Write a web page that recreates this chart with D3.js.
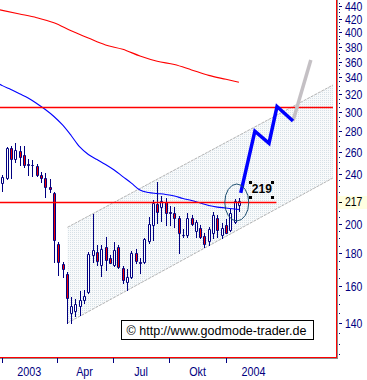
<!DOCTYPE html>
<html><head><meta charset="utf-8">
<script src="https://cdn.jsdelivr.net/npm/d3@7"></script>
<style>html,body{margin:0;padding:0;background:#fff;} svg{display:block;}</style>
</head><body>
<svg id="c" width="367" height="380"></svg>
<script>
// ---------- data ----------
const weekStart = "2003-01-02";
const open  = [232.4,236.1,263.1,252.8,260.8,256.8,248.9,247.5,246.8,238.9,236.1,229.1,223.6,186.2,173.3,167.1,145.1,146.2,148.9,152.0,156.7,179.0,181.1,172.6,184.0,176.9,172.6,184.4,170.6,162.5,165.2,180.5,174.2,174.7,188.3,199.5,215.2,213.1,217.0,208.8,208.3,204.5,192.6,192.4,204.5,195.0,197.6,191.7,188.4,193.8,204.5,192.4,199.5,195.9,201.8,214.8];
const high  = [238.9,264.1,265.3,268.4,265.3,265.3,252.8,252.2,248.6,241.5,240.3,235.3,225.0,187.8,174.7,168.5,153.9,152.6,157.3,157.7,180.9,207.4,185.6,185.6,191.2,179.0,187.8,185.6,172.1,170.4,181.5,182.7,177.2,190.1,205.6,218.3,232.7,221.5,219.8,213.6,213.1,205.7,196.9,208.3,206.8,203.1,199.5,193.8,198.2,209.2,206.8,200.7,203.6,211.1,218.8,219.8];
const low   = [225.2,235.3,236.1,250.0,247.7,246.2,238.9,238.0,237.8,232.9,221.0,224.4,174.7,166.5,165.1,140.2,140.2,143.5,144.1,150.5,155.8,174.7,172.6,165.9,169.5,173.7,171.7,170.8,161.8,157.7,164.6,174.0,167.7,173.7,187.2,188.9,201.1,202.3,199.5,199.5,198.2,180.0,191.2,191.2,199.5,191.2,190.1,184.4,185.6,190.1,191.2,190.1,193.8,195.4,201.1,209.8];
const close = [237.5,263.1,252.8,261.5,254.6,247.4,247.8,247.3,238.9,236.7,229.1,227.2,188.9,174.7,169.9,153.0,148.9,150.0,152.2,154.6,179.6,182.2,175.4,182.7,175.8,174.1,182.2,171.2,163.5,165.2,180.5,175.2,173.9,189.4,200.2,216.0,209.4,217.5,208.3,208.5,204.5,193.8,192.2,204.5,200.2,201.7,191.2,186.2,196.4,206.8,196.1,197.1,193.8,208.3,217.8,217.5];

const blueMaWeek = [-1,0,2,4,6,8,10,12,14,16,18,20,22,24,26,28,30,32,34,36,38,40,42,44,46,48,50,52,54,55];
const blueMaVal  = [333,330,325.4,320.4,315.6,309.4,302.7,295.2,286.3,275.6,264.4,257.3,252.7,248.2,243.3,237.6,232.1,226.3,224.3,223.5,222.7,221.5,219.5,217.9,215.9,214.0,212.8,212.1,211.3,211.0];
const redMaWeek  = [-1,0,4,8,12,16,20,24,28,32,36,40,44,48,52,55];
const redMaVal   = [434.5,433.1,427.5,421.8,414.1,402.4,391.9,382.2,376.3,367.3,360.4,356.2,349.3,342.5,337.6,334.0];

const levelValues = [217, 306];
const levelEnds   = ["2004-03-23", "2004-06-23"];
const forecastDates = ["2004-01-25","2004-02-17","2004-03-11","2004-03-24","2004-04-19"];
const forecastVals  = [224, 280, 268, 306, 290.4];
const extensionDates = ["2004-04-19","2004-05-18"];
const extensionVals  = [290.4, 362];
const channelDates = ["2003-04-18","2004-06-23"];
const channelLower = [140, 236.4];
const channelUpper = [197.8, 330.7];
const circleDates = ["2003-12-30","2004-02-07"];
const circleVals  = [202.4, 231.3];
const markValue = 217;
const noteText = "219";
const noteDate = "2004-02-12";
const noteVal = 224;
const yTicks = [140,160,180,200,220,240,260,280,300,320,340,360,380,400,420,440];
const quarterStarts = ["2003-01-01","2003-04-01","2003-07-01","2003-10-01","2004-01-01"];
const quarterLabelDates = ["2003-02-14","2003-05-15","2003-08-15","2003-11-15","2004-02-14"];
const quarterLabels = ["2003","Apr","Jul","Okt","2004"];
const copyright = "\u00A9 http://www.godmode-trader.de";

// ---------- setup ----------
const parse = d3.timeParse("%Y-%m-%d");
const svg = d3.select("#c");
const plotRight = 336, plotBottom = 357;
const navy = "#000080";
const x = d3.scaleTime().domain([parse("2003-01-01"), parse("2004-01-01")]).range([1.7, 226]);
const y = d3.scaleLog().domain([140, 440]).range([323, 6]);
const start = parse(weekStart);
const wk = w => d3.timeDay.offset(start, 7 * w);

const defs = svg.append("defs");
const pat = defs.append("pattern").attr("id","dots").attr("width",2).attr("height",2).attr("patternUnits","userSpaceOnUse");
pat.append("rect").attr("width",2).attr("height",2).attr("fill","#f8fafb");
pat.append("rect").attr("x",0).attr("y",0).attr("width",1).attr("height",1).attr("fill","#d6e0e6");
defs.append("clipPath").attr("id","plot").append("rect").attr("x",0).attr("y",0).attr("width",plotRight).attr("height",plotBottom);

const g = svg.append("g").attr("clip-path","url(#plot)");

// channel
const cd = channelDates.map(parse);
const chPts = [[x(cd[0]), y(channelLower[0])],[x(cd[1]), y(channelLower[1])],[x(cd[1]), y(channelUpper[1])],[x(cd[0]), y(channelUpper[0])]];
g.append("path").attr("d", "M" + chPts.map(p=>p.join(",")).join("L") + "Z").attr("fill","url(#dots)");
[channelLower, channelUpper].forEach(v => {
  g.append("line").attr("x1", x(cd[0])).attr("y1", y(v[0])).attr("x2", x(cd[1])).attr("y2", y(v[1]))
    .attr("stroke","#b4b4b4").attr("stroke-width",1).attr("stroke-dasharray","3,1");
});

// candles
const candles = open.map((o,i)=>({date: wk(i), o, h: high[i], l: low[i], c: close[i]}));
const cg = g.append("g");
candles.forEach(d => {
  const L = Math.round(x(d.date)) - 1;
  cg.append("line").attr("x1", L+1.5).attr("x2", L+1.5)
    .attr("y1", Math.round(y(d.h))).attr("y2", Math.round(y(d.l))+1)
    .attr("stroke", navy).attr("stroke-width",1);
  const yt = Math.round(y(Math.max(d.o,d.c))), yb = Math.round(y(Math.min(d.o,d.c)));
  const up = d.c >= d.o;
  cg.append("path").attr("d", `M${L+0.5},${yt+0.5}h2v${yb-yt}h-2Z`)
    .attr("fill", up ? "#ffffff" : "#f00000").attr("stroke", navy).attr("stroke-width",1);
});

// moving averages
const line = d3.line().x(d=>x(d.date)).y(d=>y(d.v)).curve(d3.curveMonotoneX);
g.append("path").datum(redMaWeek.map((w,i)=>({date: wk(w), v: redMaVal[i]})))
  .attr("d", line).attr("fill","none").attr("stroke","#ff0000").attr("stroke-width",1.1);
g.append("path").datum(blueMaWeek.map((w,i)=>({date: wk(w), v: blueMaVal[i]})))
  .attr("d", line).attr("fill","none").attr("stroke","#0000ff").attr("stroke-width",1.1);

// horizontal levels
levelValues.forEach((v,i) => {
  const yy = Math.round(y(v)) + 0.5;
  g.append("line").attr("x1",0).attr("x2", x(parse(levelEnds[i]))).attr("y1",yy).attr("y2",yy)
    .attr("stroke","#ff0000").attr("stroke-width",1.5);
});

// forecast path
const fl = d3.line().x(d=>x(d.date)).y(d=>y(d.v));
g.append("path").datum(extensionDates.map((d,i)=>({date: parse(d), v: extensionVals[i]})))
  .attr("d", fl).attr("fill","none").attr("stroke","#c4c0c4").attr("stroke-width",3.5);
g.append("path").datum(forecastDates.map((d,i)=>({date: parse(d), v: forecastVals[i]})))
  .attr("d", fl).attr("fill","none").attr("stroke","#0000ff").attr("stroke-width",3.5).attr("stroke-linejoin","miter");

// ellipse
const ex0 = x(parse(circleDates[0])), ex1 = x(parse(circleDates[1]));
const ey0 = y(circleVals[1]), ey1 = y(circleVals[0]);
g.append("ellipse").attr("cx",(ex0+ex1)/2).attr("cy",(ey0+ey1)/2).attr("rx",(ex1-ex0)/2).attr("ry",(ey1-ey0)/2)
  .attr("fill","none").attr("stroke","#1c4e70").attr("stroke-width",1);

// note label with handles
const nt = svg.append("text").attr("x", x(parse(noteDate))).attr("y", y(noteVal))
  .attr("font-family","Liberation Sans, Arial, sans-serif").attr("font-size",12).attr("font-weight","bold")
  .attr("fill","#000").text(noteText);
const bb = nt.node().getBBox();
[[bb.x-3, bb.y-1],[bb.x+bb.width-1, bb.y-1],[bb.x-3, bb.y+bb.height],[bb.x+bb.width-1, bb.y+bb.height]].forEach(p=>{
  svg.append("rect").attr("x",Math.round(p[0])).attr("y",Math.round(p[1])).attr("width",3).attr("height",3).attr("fill","#000");
});

// copyright box
svg.append("rect").attr("x",121.5).attr("y",320.5).attr("width",192).attr("height",19)
  .attr("fill","#fff").attr("stroke","#000").attr("stroke-width",1);
svg.append("text").attr("x",126.5).attr("y",334.5)
  .attr("font-family","Liberation Sans, Arial, sans-serif").attr("font-size",12.5).attr("fill","#000")
  .attr("textLength",180).attr("lengthAdjust","spacingAndGlyphs").text(copyright);

// frame lines
svg.append("line").attr("x1",plotRight+1.5).attr("x2",plotRight+1.5).attr("y1",0).attr("y2",plotBottom+2).attr("stroke","#8c8c8c");
svg.append("line").attr("x1",0).attr("x2",plotRight+2).attr("y1",plotBottom+1.5).attr("y2",plotBottom+1.5).attr("stroke","#8c8c8c");
svg.append("line").attr("x1",plotRight+0.5).attr("x2",plotRight+0.5).attr("y1",0).attr("y2",plotBottom+1).attr("stroke","#ff0000");
svg.append("line").attr("x1",0).attr("x2",plotRight+1).attr("y1",plotBottom+0.5).attr("y2",plotBottom+0.5).attr("stroke","#ff0000");

function squeeze(sel, f) {
  sel.each(function(){ const w = this.getComputedTextLength(); this.setAttribute("textLength", w*f); this.setAttribute("lengthAdjust","spacingAndGlyphs"); });
}

// y axis
const minor = d3.range(125, 446, 5).filter(v => v % 20 !== 0);
const yMinor = svg.append("g").attr("transform",`translate(339,0)`)
  .call(d3.axisRight(y).tickValues(minor).tickSize(1).tickFormat(""));
yMinor.select(".domain").remove();
yMinor.selectAll("line").attr("stroke",navy).attr("shape-rendering","crispEdges");
const yAx = svg.append("g").attr("transform",`translate(339,0)`)
  .call(d3.axisRight(y).tickValues(yTicks).tickSize(3).tickPadding(3)
    .tickFormat(d => d === 220 ? "" : d3.format("d")(d)));   // 220 is hidden behind the 217 marker in the original
yAx.select(".domain").remove();
yAx.selectAll("line").attr("stroke",navy).attr("shape-rendering","crispEdges");
yAx.selectAll("text").attr("fill",navy).attr("font-size",12).attr("font-family","Liberation Sans, Arial, sans-serif").attr("dy","0.38em");
yAx.selectAll("text").filter(function(){ return this.textContent === ""; }).remove();
squeeze(yAx.selectAll("text"), 0.87);

// highlighted mark value
const my = y(markValue);
svg.append("rect").attr("x",338).attr("y",Math.round(my)-6).attr("width",29).attr("height",13).attr("fill","#ffffe1");
svg.append("line").attr("x1",339).attr("x2",342).attr("y1",Math.round(my)+0.5).attr("y2",Math.round(my)+0.5).attr("stroke","#000");
const mt = svg.append("text").attr("x",345).attr("y",my).attr("dy","0.38em").attr("fill","#000")
  .attr("font-size",12).attr("font-family","Liberation Sans, Arial, sans-serif").text(markValue);
squeeze(mt, 0.87);

// x axis
const xAx = svg.append("g").attr("transform",`translate(0,${plotBottom+1})`)
  .call(d3.axisBottom(x).tickValues(quarterStarts.map(parse)).tickSize(5).tickFormat(""));
xAx.select(".domain").remove();
xAx.selectAll("line").attr("stroke",navy).attr("shape-rendering","crispEdges");
const xLab = svg.append("g").attr("transform",`translate(0,${plotBottom+1})`)
  .call(d3.axisBottom(x).tickValues(quarterLabelDates.map(parse)).tickSize(0).tickPadding(9).tickFormat((d,i)=>quarterLabels[i]));
xLab.select(".domain").remove();
xLab.selectAll("text").attr("fill",navy).attr("font-size",13).attr("font-family","Liberation Sans, Arial, sans-serif");
squeeze(xLab.selectAll("text"), 0.83);
</script>
</body></html>
